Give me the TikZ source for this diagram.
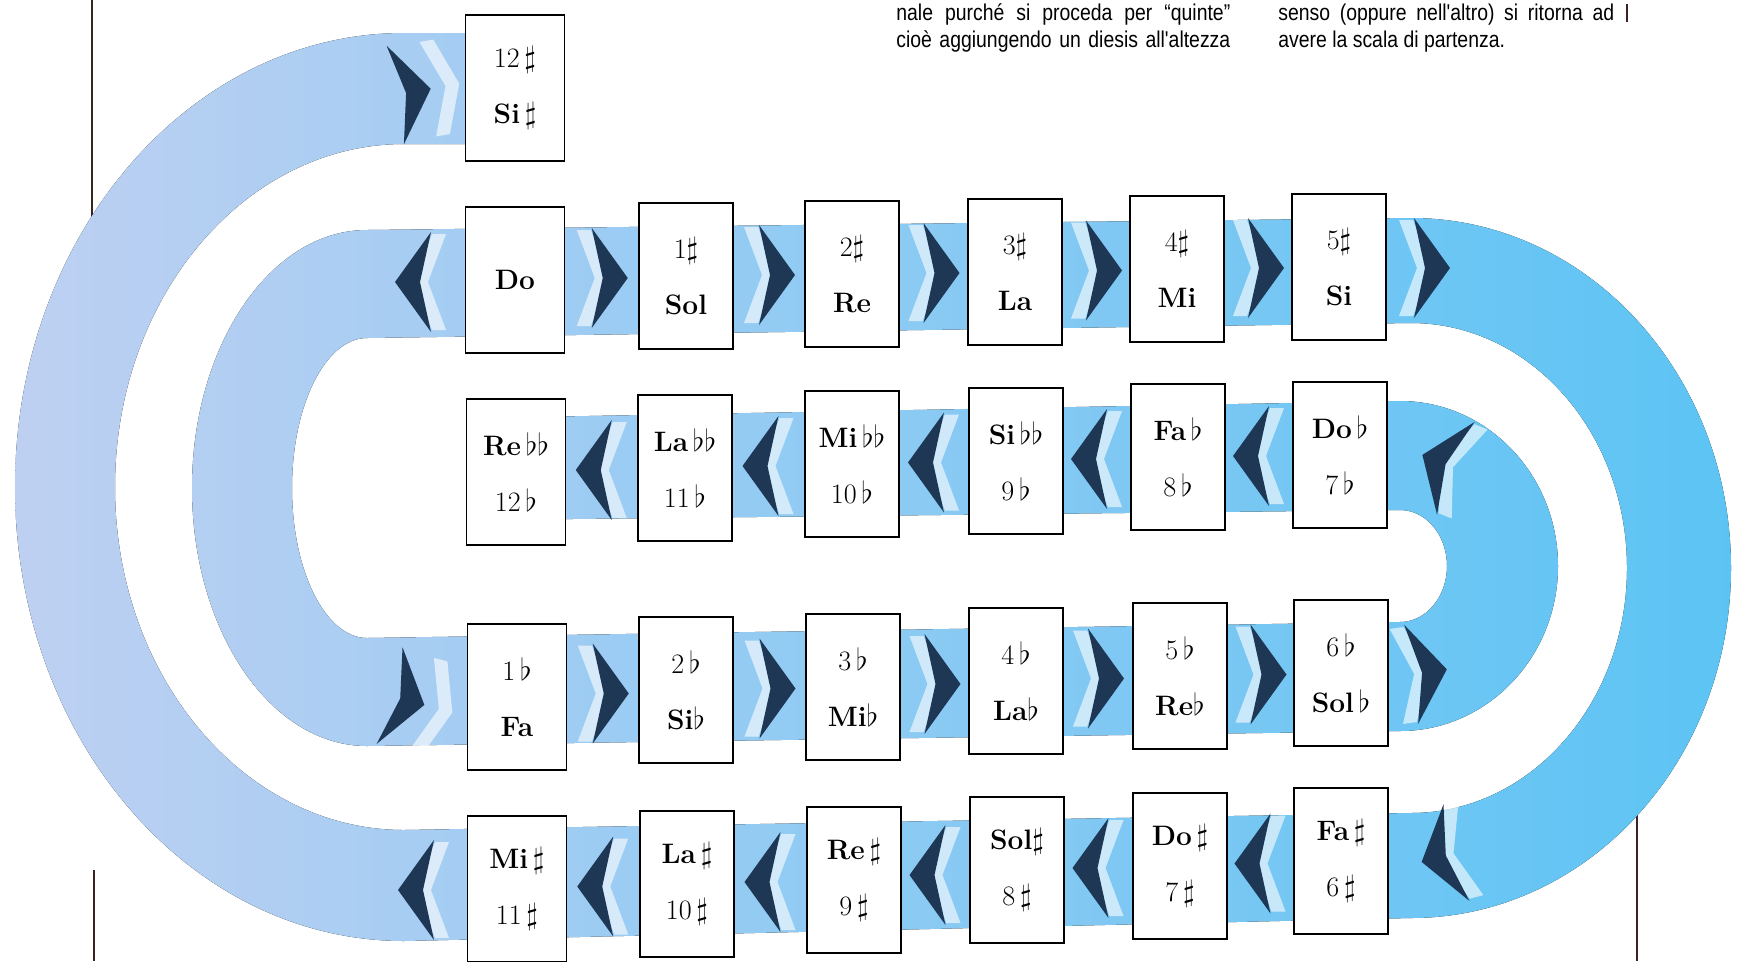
\documentclass[tikz,border=0pt]{standalone}
\usepackage{fontspec}
\usetikzlibrary{calc}

\newfontfamily\colfont[FakeStretch=0.85]{Liberation Sans}

\definecolor{bandpale}{RGB}{190,208,242}
\definecolor{bandmid}{RGB}{150,200,242}
\definecolor{bandsky}{RGB}{92,196,244}
\definecolor{arrowblue}{RGB}{30,55,85}
\definecolor{rulecol}{RGB}{60,35,35}

% chevron: position, rotation, side of the light part (-1 behind, 1 in front)
\newcommand{\chev}[3]{%
  \begin{scope}[shift={#1}, rotate=#2]
    \fill[white, opacity=.6] ({#3*24-8},-48) -- ({#3*24+6},-48) -- ({#3*24+24},0) -- ({#3*24+6},48) -- ({#3*24-8},48) -- ({#3*24+10},0) -- cycle;
    \fill[arrowblue] (-17,-50) -- (19,0) -- (-17,50) -- (-6,0) -- cycle;
  \end{scope}}

\begin{document}
\begin{tikzpicture}[x=0.02cm, y=-0.02cm,
  notebox/.style={draw, fill=white, line width=1.1pt, minimum width=1.88cm, minimum height=2.92cm, inner sep=0pt, align=center, font=\fontsize{16}{32}\selectfont},
  widebox/.style={notebox, minimum width=1.98cm},
  coltext/.style={anchor=base west, inner sep=0pt, font=\colfont\fontsize{13}{15}\selectfont}]
\useasboundingbox (0,0) rectangle (1745,961);
\fill[white] (0,0) rectangle (1745,961);

% margin rules
\draw[line width=1pt, rulecol] (92,0) -- (92,260);
\draw[line width=1pt, rulecol] (94,870) -- (94,961);
\draw[line width=1pt, rulecol] (1637,780) -- (1637,961);
\draw[line width=1pt, rulecol] (1627,4) -- (1627,22);

% the spiral band
\fill[left color=bandpale, middle color=bandmid, right color=bandsky]
  (480,33) -- (404,33) arc[start angle=270, end angle=90, x radius=389, y radius=454]
  -- (1411,918) arc[start angle=90, end angle=-90, x radius=320, y radius=350]
  -- (367,230) arc[start angle=270, end angle=90, x radius=175, y radius=258]
  -- (1400,731) arc[start angle=90, end angle=-90, x radius=158, y radius=165]
  -- (480,418) -- (480,520)
  -- (1400,510) arc[start angle=-90, end angle=90, x radius=47, y radius=56]
  -- (367,638) arc[start angle=90, end angle=270, x radius=75, y radius=150]
  -- (1411,323) arc[start angle=-90, end angle=90, x radius=216, y radius=245]
  -- (404,830) arc[start angle=90, end angle=270, x radius=289, y radius=343]
  -- (480,144) -- cycle;

% text columns
\node[coltext] (colaone) at (896,20) {\makebox[6.68cm][s]{nale purché si proceda per “quinte”}};
\node[coltext] (colatwo) at (896,47) {\makebox[6.68cm][s]{cioè aggiungendo un diesis all'altezza}};
\node[coltext] (colbone) at (1278,20) {\makebox[6.72cm][s]{senso (oppure nell'altro) si ritorna ad}};
\node[coltext] (colbtwo) at (1278,47) {avere la scala di partenza.};

% sharps
\node[widebox] (sis) at (515,88) {12\,$\sharp$\\\textbf{Si}\,$\sharp$};
\node[widebox] (do) at (515,280) {\textbf{Do}};
\node[notebox] (sol) at (686,276) {1$\sharp$\\\textbf{Sol}};
\node[notebox] (re) at (852,274) {2$\sharp$\\\textbf{Re}};
\node[notebox] (la) at (1015,272) {3$\sharp$\\\textbf{La}};
\node[notebox] (mi) at (1177,269) {4$\sharp$\\\textbf{Mi}};
\node[notebox] (si) at (1339,267) {5$\sharp$\\\textbf{Si}};

\node[widebox] (mis) at (517,889) {\textbf{Mi}\,$\sharp$\\11\,$\sharp$};
\node[notebox] (las) at (687,884) {\textbf{La}\,$\sharp$\\10\,$\sharp$};
\node[notebox] (res) at (854,880) {\textbf{Re}\,$\sharp$\\9\,$\sharp$};
\node[notebox] (sols) at (1017,870) {\textbf{Sol}$\sharp$\\8\,$\sharp$};
\node[notebox] (dos) at (1180,866) {\textbf{Do}\,$\sharp$\\7\,$\sharp$};
\node[notebox] (fas) at (1341,861) {\textbf{Fa}\,$\sharp$\\6\,$\sharp$};

% flats
\node[widebox] (rebb) at (516,472) {\textbf{Re}\,$\flat\flat$\\12\,$\flat$};
\node[notebox] (labb) at (685,468) {\textbf{La}\,$\flat\flat$\\11\,$\flat$};
\node[notebox] (mibb) at (852,464) {\textbf{Mi}\,$\flat\flat$\\10\,$\flat$};
\node[notebox] (sibb) at (1016,461) {\textbf{Si}\,$\flat\flat$\\9\,$\flat$};
\node[notebox] (fab) at (1178,457) {\textbf{Fa}\,$\flat$\\8\,$\flat$};
\node[notebox] (dob) at (1340,455) {\textbf{Do}\,$\flat$\\7\,$\flat$};

\node[widebox] (fa) at (517,697) {1\,$\flat$\\\textbf{Fa}};
\node[notebox] (sib) at (686,690) {2\,$\flat$\\\textbf{Si}$\flat$};
\node[notebox] (mib) at (853,687) {3\,$\flat$\\\textbf{Mi}$\flat$};
\node[notebox] (lab) at (1016,681) {4\,$\flat$\\\textbf{La}$\flat$};
\node[notebox] (reb) at (1180,676) {5\,$\flat$\\\textbf{Re}$\flat$};
\node[notebox] (solb) at (1341,673) {6\,$\flat$\\\textbf{Sol}\,$\flat$};

% arrows along the band
\chev{(412,92)}{10}{1}
\chev{(414,282)}{180}{-1}
\chev{($(do.east)!.5!(sol.west)+(7,0)$)}{0}{-1}
\chev{($(sol.east)!.5!(re.west)+(7,0)$)}{0}{-1}
\chev{($(re.east)!.5!(la.west)+(7,0)$)}{0}{-1}
\chev{($(la.east)!.5!(mi.west)+(7,0)$)}{0}{-1}
\chev{($(mi.east)!.5!(si.west)+(7,0)$)}{0}{-1}
\chev{(1431,268)}{0}{-1}

\chev{($(rebb.east)!.5!(labb.west)+(-7,0)$)}{180}{-1}
\chev{($(labb.east)!.5!(mibb.west)+(-7,0)$)}{180}{-1}
\chev{($(mibb.east)!.5!(sibb.west)+(-7,0)$)}{180}{-1}
\chev{($(sibb.east)!.5!(fab.west)+(-7,0)$)}{180}{-1}
\chev{($(fab.east)!.5!(dob.west)+(-7,0)$)}{180}{-1}
\chev{(1440,462)}{158}{-1}

\chev{(406,700)}{-15}{1}
\chev{($(fa.east)!.5!(sib.west)+(7,0)$)}{0}{-1}
\chev{($(sib.east)!.5!(mib.west)+(7,0)$)}{0}{-1}
\chev{($(mib.east)!.5!(lab.west)+(7,0)$)}{0}{-1}
\chev{($(lab.east)!.5!(reb.west)+(7,0)$)}{0}{-1}
\chev{($(reb.east)!.5!(solb.west)+(7,0)$)}{0}{-1}
\chev{(1428,672)}{8}{-1}

\chev{(417,890)}{180}{-1}
\chev{($(mis.east)!.5!(las.west)+(-7,0)$)}{180}{-1}
\chev{($(las.east)!.5!(res.west)+(-7,0)$)}{180}{-1}
\chev{($(res.east)!.5!(sols.west)+(-7,0)$)}{180}{-1}
\chev{($(sols.east)!.5!(dos.west)+(-7,0)$)}{180}{-1}
\chev{($(dos.east)!.5!(fas.west)+(-7,0)$)}{180}{-1}
\chev{(1440,857)}{195}{-1}
\end{tikzpicture}
\end{document}
